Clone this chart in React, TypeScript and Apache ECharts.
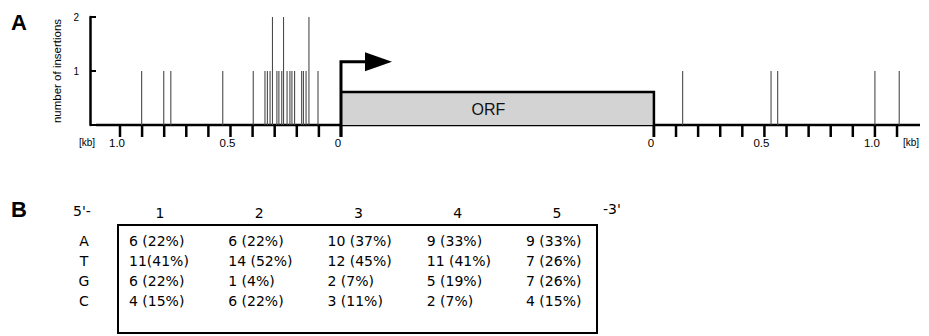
import React, { useEffect, useRef } from 'react';
import * as echarts from 'echarts';

// ---------- Panel A data ----------
// insertion sites upstream of the ORF (kb from start) and number of insertions
const upstreamKb = [0.902, 0.802, 0.770, 0.535, 0.397, 0.344, 0.333, 0.321, 0.310, 0.290, 0.281, 0.268, 0.260, 0.244, 0.231, 0.222, 0.210, 0.178, 0.170, 0.158, 0.145, 0.104];
const upstreamCount = [1, 1, 1, 1, 1, 1, 1, 1, 2, 1, 1, 1, 2, 1, 1, 1, 1, 1, 1, 1, 2, 1];
// insertion sites downstream of the ORF (kb from stop)
const downstreamKb = [0.13, 0.53, 0.56, 1.0, 1.11];
const downstreamCount = [1, 1, 1, 1, 1];

const upstreamTicks = [0, 0.1, 0.2, 0.3, 0.4, 0.5, 0.6, 0.7, 0.8, 0.9, 1.0];
const downstreamTicks = [0, 0.1, 0.2, 0.3, 0.4, 0.5, 0.6, 0.7, 0.8, 0.9, 1.0, 1.1];
const upstreamLabelKb = [1.0, 0.5, 0];
const upstreamLabels = ['1.0', '0.5', '0'];
const downstreamLabelKb = [0, 0.5, 1.0];
const downstreamLabels = ['0', '0.5', '1.0'];

const yAxisTitle = 'number of insertions';
const orfLabel = 'ORF';

// ---------- Panel B data ----------
const positions = ['1', '2', '3', '4', '5'];
const bases = ['A', 'T', 'G', 'C'];
const rowA = ['6 (22%)', '6 (22%)', '10 (37%)', '9 (33%)', '9 (33%)'];
const rowT = ['11(41%)', '14 (52%)', '12 (45%)', '11 (41%)', '7 (26%)'];
const rowG = ['6 (22%)', '1 (4%)', '2 (7%)', '5 (19%)', '7 (26%)'];
const rowC = ['4 (15%)', '6 (22%)', '3 (11%)', '2 (7%)', '4 (15%)'];

// ---------- layout constants (display units) ----------
const ORF_LEN = 1.416; // ORF drawn not to scale
const ORF_HEIGHT = 0.61;
const ARROW_HEIGHT = 1.17;
const X_MIN = -1.1357;
const X_MAX = 2.62;
const BASE_START = -1.1086;

const FONT_A = '"Liberation Sans", Arial, Helvetica, sans-serif';
const FONT_B = '"DejaVu Sans", "Open Sans", sans-serif';

export default function App() {
  const ref = useRef<HTMLDivElement>(null);

  useEffect(() => {
    if (!ref.current) return;
    const chart = echarts.init(ref.current, undefined, { renderer: 'svg' });

    const insertData = [
      ...upstreamKb.map((k, i) => [-k, upstreamCount[i]]),
      ...downstreamKb.map((k, i) => [ORF_LEN + k, downstreamCount[i]]),
    ];
    const tickData = [
      ...upstreamTicks.map((k) => [-k]),
      ...downstreamTicks.map((k) => [ORF_LEN + k]),
    ];
    const tickLabelData = [
      ...upstreamLabelKb.map((k) => [-k]),
      ...downstreamLabelKb.map((k) => [ORF_LEN + k]),
    ];
    const tickLabelText = [...upstreamLabels, ...downstreamLabels];

    const rows = [rowA, rowT, rowG, rowC];
    const cellData: number[][] = [];
    const cellText: string[] = [];
    rows.forEach((row, r) =>
      row.forEach((t, c) => {
        cellData.push([c + 1, r]);
        cellText.push(t);
      })
    );

    const option: any = {
      animation: false,
      grid: [
        { left: 90, right: 9, top: 17, bottom: 211 },
        {
          left: 118, right: 332, top: 225, bottom: 3,
          show: true, borderColor: '#000', borderWidth: 2, backgroundColor: 'transparent',
        },
      ],
      xAxis: [
        {
          type: 'value', gridIndex: 0, min: X_MIN, max: X_MAX, show: false,
        },
        {
          type: 'value', gridIndex: 1, position: 'top', min: 0.577, max: 5.403,
          axisLine: { show: false }, axisTick: { show: false }, splitLine: { show: false },
          axisLabel: {
            customValues: [1, 2, 3, 4, 5],
            formatter: (v: number) => positions[Math.round(v) - 1] ?? '',
            margin: 5, fontSize: 14, color: '#000', fontFamily: FONT_B,
          },
        },
      ],
      yAxis: [
        {
          type: 'value', gridIndex: 0, min: 0, max: 2, interval: 1,
          axisLine: { show: true, onZero: false, lineStyle: { color: '#000', width: 2.5 } },
          axisTick: { show: true, inside: true, length: 6, lineStyle: { color: '#000', width: 2 } },
          axisLabel: {
            formatter: (v: number) => (v === 0 ? '' : String(v)),
            fontSize: 10, color: '#000', margin: 11, fontFamily: FONT_A,
            verticalAlign: 'middle',
          },
          splitLine: { show: false },
          name: yAxisTitle, nameLocation: 'middle', nameGap: 24, nameRotate: 90,
          nameTextStyle: { fontSize: 11.5, color: '#000', fontFamily: FONT_A },
        },
        {
          type: 'value', gridIndex: 1, inverse: true, min: -0.8, max: 4.6,
          axisLine: { show: false, onZero: false }, axisTick: { show: false }, splitLine: { show: false },
          axisLabel: {
            customValues: [0, 1, 2, 3],
            formatter: (v: number) => bases[Math.round(v)] ?? '',
            margin: 34, align: 'center', fontSize: 14, color: '#000', fontFamily: FONT_B,
          },
        },
      ],
      series: [
        // baseline
        {
          type: 'custom', xAxisIndex: 0, yAxisIndex: 0, silent: true,
          data: [[BASE_START, X_MAX]],
          renderItem: (p: any, api: any) => {
            const a = api.coord([api.value(0), 0]);
            const b = api.coord([api.value(1), 0]);
            return {
              type: 'line',
              shape: { x1: a[0], y1: a[1], x2: b[0], y2: b[1] },
              style: { stroke: '#000', lineWidth: 2.5 },
            };
          },
        },
        // ORF box and start arrow
        {
          type: 'custom', xAxisIndex: 0, yAxisIndex: 0, silent: true,
          data: [[0, ORF_LEN, ORF_HEIGHT, ARROW_HEIGHT]],
          z: 3,
          renderItem: (p: any, api: any) => {
            const x0 = api.value(0), x1 = api.value(1), h = api.value(2), ah = api.value(3);
            const bl = api.coord([x0, 0]);
            const tl = api.coord([x0, h]);
            const br = api.coord([x1, 0]);
            const tr = api.coord([x1, h]);
            const ar = api.coord([x0, ah]);
            return {
              type: 'group',
              children: [
                {
                  type: 'rect',
                  shape: { x: tl[0], y: tl[1], width: br[0] - tl[0], height: bl[1] - tl[1] },
                  style: { fill: '#d3d3d3' },
                },
                {
                  type: 'polyline',
                  shape: { points: [tl, tr, [br[0], br[1] + 12]] },
                  style: { stroke: '#000', lineWidth: 2.5, fill: 'none' },
                },
                {
                  type: 'polyline',
                  shape: { points: [[bl[0], bl[1] + 12], ar, [ar[0] + 26, ar[1]]] },
                  style: { stroke: '#000', lineWidth: 3, fill: 'none' },
                },
                {
                  type: 'polygon',
                  shape: { points: [[ar[0] + 24, ar[1] - 9.5], [ar[0] + 51, ar[1]], [ar[0] + 24, ar[1] + 9.5]] },
                  style: { fill: '#000' },
                },
                {
                  type: 'text',
                  style: {
                    x: (tl[0] + tr[0]) / 2 - 9, y: (tl[1] + bl[1]) / 2 + 1,
                    text: orfLabel, align: 'center', verticalAlign: 'middle',
                    fontSize: 16, fontFamily: FONT_A, fill: '#111',
                  },
                },
              ],
            };
          },
        },
        // insertion lines
        {
          type: 'custom', xAxisIndex: 0, yAxisIndex: 0, silent: true,
          data: insertData,
          z: 4,
          renderItem: (p: any, api: any) => {
            const a = api.coord([api.value(0), 0]);
            const b = api.coord([api.value(0), api.value(1)]);
            return {
              type: 'line',
              shape: { x1: a[0], y1: a[1], x2: b[0], y2: b[1] },
              style: { stroke: '#4a4a4a', lineWidth: 1.1 },
            };
          },
        },
        // scale ticks
        {
          type: 'custom', xAxisIndex: 0, yAxisIndex: 0, silent: true,
          data: tickData,
          z: 5,
          renderItem: (p: any, api: any) => {
            const a = api.coord([api.value(0), 0]);
            return {
              type: 'line',
              shape: { x1: a[0], y1: a[1], x2: a[0], y2: a[1] + 12 },
              style: { stroke: '#000', lineWidth: 2.5 },
            };
          },
        },
        // scale labels
        {
          type: 'custom', xAxisIndex: 0, yAxisIndex: 0, silent: true,
          data: tickLabelData,
          z: 5,
          renderItem: (p: any, api: any) => {
            const a = api.coord([api.value(0), 0]);
            return {
              type: 'text',
              style: {
                x: a[0] - 3, y: a[1] + 18, text: tickLabelText[p.dataIndex],
                align: 'center', verticalAlign: 'middle',
                fontSize: 11.5, fontFamily: FONT_A, fill: '#000',
              },
            };
          },
        },
        // table cells
        {
          type: 'custom', xAxisIndex: 1, yAxisIndex: 1, silent: true,
          data: cellData,
          renderItem: (p: any, api: any) => {
            const a = api.coord([api.value(0), api.value(1)]);
            return {
              type: 'text',
              style: {
                x: a[0] - 31, y: a[1], text: cellText[p.dataIndex],
                align: 'left', verticalAlign: 'middle',
                fontSize: 14, fontFamily: FONT_B, fill: '#000',
              },
            };
          },
        },
      ],
      graphic: [
        { type: 'text', left: 11, top: 11, style: { text: 'A', fontSize: 22, fontWeight: 'bold', fontFamily: FONT_A, fill: '#000' } },
        { type: 'text', left: 11, top: 198, style: { text: 'B', fontSize: 22, fontWeight: 'bold', fontFamily: FONT_A, fill: '#000' } },
        { type: 'text', left: 79, top: 137, style: { text: '[kb]', fontSize: 10, fontFamily: FONT_A, fill: '#000' } },
        { type: 'text', left: 903, top: 137, style: { text: '[kb]', fontSize: 10, fontFamily: FONT_A, fill: '#000' } },
        { type: 'text', left: 73, top: 204, style: { text: "5'-", fontSize: 14, fontFamily: FONT_B, fill: '#000' } },
        { type: 'text', left: 603, top: 202, style: { text: "-3'", fontSize: 14, fontFamily: FONT_B, fill: '#000' } },
      ],
    };

    chart.setOption(option);
    return () => chart.dispose();
  }, []);

  return (
    <div
      ref={ref}
      style={{ position: 'fixed', left: 0, top: 0, width: 929, height: 336, background: '#fff' }}
    />
  );
}
